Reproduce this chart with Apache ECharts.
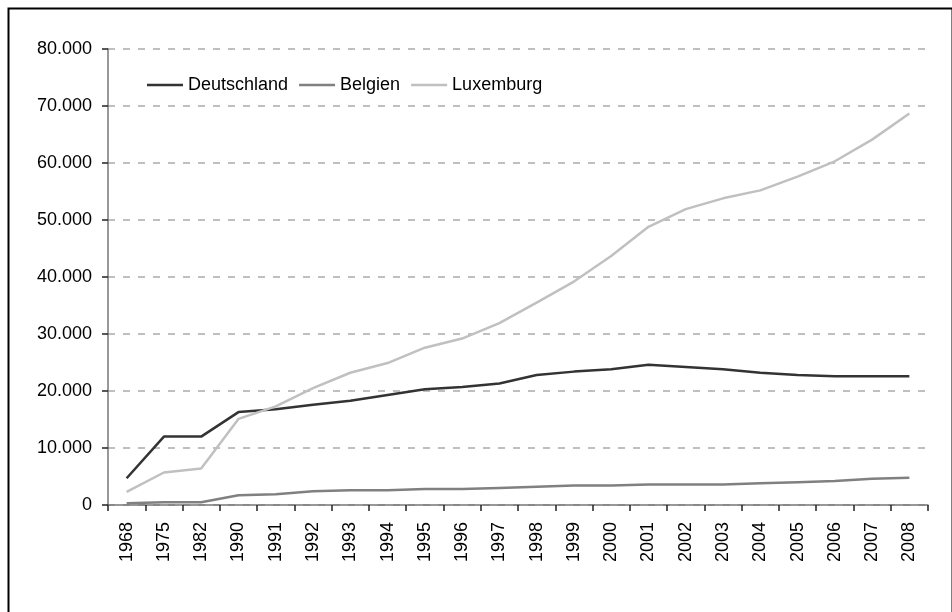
<!DOCTYPE html>
<html>
<head>
<meta charset="utf-8">
<script src="https://cdn.jsdelivr.net/npm/echarts@6/dist/echarts.min.js"></script>
<style>
html,body{margin:0;padding:0;background:#fff;}
#chart{width:952px;height:612px;}
</style>
</head>
<body>
<div id="chart"></div>
<script>
const years = ['1968','1975','1982','1990','1991','1992','1993','1994','1995','1996','1997','1998','1999','2000','2001','2002','2003','2004','2005','2006','2007','2008'];
const deutschland = [4700,12000,12000,16300,16800,17600,18300,19300,20300,20700,21300,22800,23400,23800,24600,24200,23800,23200,22800,22600,22600,22600];
const belgien = [300,500,500,1700,1900,2400,2600,2600,2800,2800,3000,3200,3400,3400,3600,3600,3600,3800,4000,4200,4600,4800];
const luxemburg = [2300,5700,6400,15100,17300,20500,23200,24900,27600,29200,31900,35500,39200,43700,48800,51900,53800,55200,57600,60300,64100,68700];
const yTicks = {min:0, max:80000, interval:10000};

function fmt(v){
  return String(Math.round(v)).replace(/\B(?=(\d{3})+(?!\d))/g,'.');
}

const chart = echarts.init(document.getElementById('chart'), null, {renderer:'canvas'});
const font = 'Liberation Sans, Arial, sans-serif';
function mk(name, data, color){
  return {name:name, type:'line', data:data, symbol:'none', smooth:false,
    lineStyle:{color:color, width:2.5}, itemStyle:{color:color}, animation:false};
}
chart.setOption({
  animation:false,
  backgroundColor:'#ffffff',
  graphic:[{type:'rect', left:6, top:6, shape:{width:944, height:640},
    style:{fill:'none', stroke:'#000', lineWidth:2}, silent:true, z:-1}],
  grid:{left:108, right:24, top:49, bottom:107, containLabel:false},
  legend:{left:147, top:76, padding:0, icon:'rect', itemWidth:36, itemHeight:2.5, itemGap:11,
    textStyle:{fontFamily:font, fontSize:18, color:'#000'},
    data:['Deutschland','Belgien','Luxemburg']},
  xAxis:{type:'category', data:years, boundaryGap:true,
    axisLine:{lineStyle:{color:'#777', width:1.5}},
    axisTick:{show:true, alignWithLabel:false, length:6, lineStyle:{color:'#222', width:1.5}},
    axisLabel:{rotate:90, fontFamily:font, fontSize:18, color:'#000', margin:17, interval:0}},
  yAxis:{type:'value', min:yTicks.min, max:yTicks.max, interval:yTicks.interval,
    axisLine:{show:true, lineStyle:{color:'#777', width:1.5}},
    axisTick:{show:true, length:6, lineStyle:{color:'#222', width:1.5}},
    axisLabel:{fontFamily:font, fontSize:18, color:'#000', margin:16, formatter:fmt},
    splitLine:{show:true, lineStyle:{color:'#aaa', width:1.5, type:[7,8]}}},
  series:[mk('Deutschland', deutschland, '#333333'), mk('Belgien', belgien, '#808080'), mk('Luxemburg', luxemburg, '#c0c0c0')]
});
</script>
</body>
</html>
